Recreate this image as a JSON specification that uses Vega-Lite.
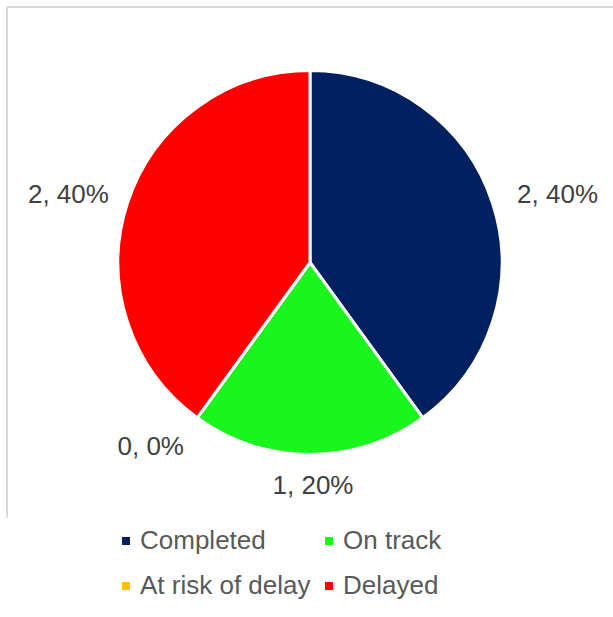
{
  "$schema": "https://vega.github.io/schema/vega-lite/v6.json",
  "width": 606,
  "height": 511,
  "padding": {"left": 7, "top": 7, "right": 0, "bottom": 0},
  "background": "white",
  "view": {"stroke": "#d9d9d9", "strokeWidth": 2, "strokeDash": [606, 1117, 511, 0]},
  "data": {
    "values": [
      {"status": "Completed", "count": 2},
      {"status": "On track", "count": 1},
      {"status": "At risk of delay", "count": 0},
      {"status": "Delayed", "count": 2}
    ]
  },
  "transform": [
    {"joinaggregate": [{"op": "sum", "field": "count", "as": "total"}]},
    {"calculate": "datum.count + ', ' + format(datum.count / datum.total, '.0%')", "as": "label"},
    {"calculate": "indexof(['Completed', 'On track', 'At risk of delay', 'Delayed'], datum.status)", "as": "k"}
  ],
  "encoding": {
    "theta": {"field": "count", "type": "quantitative", "stack": true},
    "order": {"field": "k", "type": "quantitative", "sort": "ascending"}
  },
  "layer": [
    {
      "mark": {"type": "arc", "outerRadius": 192, "stroke": "white", "strokeWidth": 3},
      "encoding": {
        "color": {
          "field": "status",
          "type": "nominal",
          "sort": ["Completed", "On track", "At risk of delay", "Delayed"],
          "scale": {
            "domain": ["Completed", "On track", "At risk of delay", "Delayed"],
            "range": ["#002060", "#1AF51E", "#FFC000", "#FF0000"]
          },
          "legend": {
            "title": null,
            "orient": "none",
            "legendX": 106,
            "legendY": 521,
            "columns": 2,
            "direction": "horizontal",
            "symbolType": "square",
            "symbolSize": 64,
            "symbolStrokeWidth": 0,
            "labelFont": "Liberation Sans",
            "labelFontSize": 26,
            "labelColor": "#595959",
            "labelOffset": 1,
            "columnPadding": 5,
            "rowPadding": 19,
            "padding": 0,
            "labelLimit": 400
          }
        }
      }
    },
    {
      "mark": {"type": "text", "radius": 254, "dx": 6, "dy": 11, "fontSize": 26, "font": "Liberation Sans", "align": "center", "baseline": "middle"},
      "encoding": {
        "detail": {"field": "status", "type": "nominal"},
        "color": {"value": "#404040"},
        "text": {"condition": {"test": "datum.status === 'Completed'", "field": "label"}, "value": ""}
      }
    },
    {
      "mark": {"type": "text", "radius": 254, "dy": 11, "fontSize": 26, "font": "Liberation Sans", "align": "center", "baseline": "middle"},
      "encoding": {
        "detail": {"field": "status", "type": "nominal"},
        "color": {"value": "#404040"},
        "text": {"condition": {"test": "datum.status === 'Delayed'", "field": "label"}, "value": ""}
      }
    },
    {
      "mark": {"type": "text", "radius": 223, "dx": 3, "fontSize": 26, "font": "Liberation Sans", "align": "center", "baseline": "middle"},
      "encoding": {
        "detail": {"field": "status", "type": "nominal"},
        "color": {"value": "#404040"},
        "text": {"condition": {"test": "datum.status === 'On track'", "field": "label"}, "value": ""}
      }
    },
    {
      "mark": {"type": "text", "radius": 228, "dx": 8, "fontSize": 26, "font": "Liberation Sans", "align": "right", "baseline": "middle"},
      "encoding": {
        "detail": {"field": "status", "type": "nominal"},
        "color": {"value": "#404040"},
        "text": {"condition": {"test": "datum.status === 'At risk of delay'", "field": "label"}, "value": ""}
      }
    }
  ]
}
